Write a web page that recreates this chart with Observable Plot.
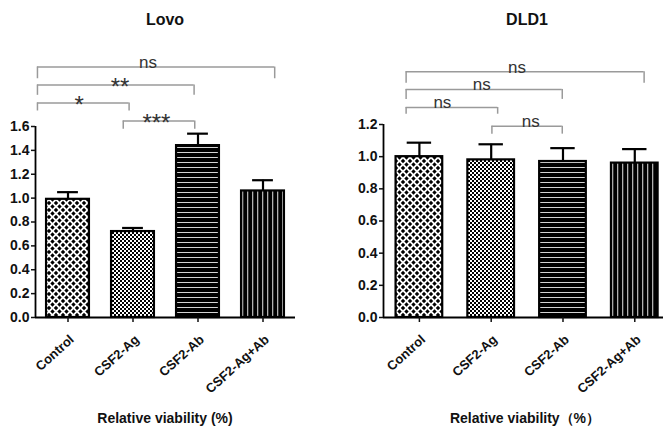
<!DOCTYPE html>
<html>
<head>
<meta charset="utf-8">
<script src="https://cdn.jsdelivr.net/npm/d3@7"></script>
<script src="https://cdn.jsdelivr.net/npm/@observablehq/plot@0.6"></script>
<style>
  body { margin: 0; background: white; font-family: "Liberation Sans", Arial, sans-serif; }
  #wrap { position: relative; width: 664px; height: 430px; overflow: hidden; }
  .panel { position: absolute; top: 0; }
  .lbl { position: absolute; text-align: center; font-weight: bold; color: #111; white-space: nowrap; z-index: 2; }
  .title { font-size: 16px; line-height: 16px; top: 12px; width: 330px; }
  .xlab { font-size: 14px; line-height: 14px; top: 411px; width: 330px; }
</style>
</head>
<body>
<svg width="0" height="0" style="position:absolute">
  <defs>
    <pattern id="pat0" width="7" height="7" patternUnits="userSpaceOnUse">
      <rect width="7" height="7" fill="white"/>
      <path d="M0,-2.2L2.2,0L0,2.2L-2.2,0Z M7,-2.2L9.2,0L7,2.2L4.8,0Z M0,4.8L2.2,7L0,9.2L-2.2,7Z M7,4.8L9.2,7L7,9.2L4.8,7Z M3.5,1.3L5.7,3.5L3.5,5.7L1.3,3.5Z" fill="black"/>
    </pattern>
    <pattern id="pat1" width="4" height="4" patternUnits="userSpaceOnUse">
      <rect width="4" height="4" fill="white"/>
      <rect x="0" y="0" width="2" height="2" fill="black"/>
      <rect x="2" y="2" width="2" height="2" fill="black"/>
    </pattern>
    <pattern id="pat2" width="6" height="5" patternUnits="userSpaceOnUse">
      <rect width="6" height="5" fill="black"/>
      <rect x="0" y="2" width="6" height="1" fill="#d4d4d4"/>
    </pattern>
    <pattern id="pat3" width="5" height="6" patternUnits="userSpaceOnUse">
      <rect width="5" height="6" fill="black"/>
      <rect x="2" y="0" width="1.3" height="6" fill="#b0b0b0"/>
    </pattern>
  </defs>
</svg>
<div id="wrap">
  <div class="lbl title" style="left:0px">Lovo</div>
  <div class="lbl title" style="left:362px">DLD1</div>
  <div class="lbl xlab" style="left:0px">Relative viability (%)</div>
  <div class="lbl xlab" style="left:360px">Relative viability（%）</div>
</div>
<script>
// ---- data ----
const categories = ["Control", "CSF2-Ag", "CSF2-Ab", "CSF2-Ag+Ab"];
const patterns = ["url(#pat0)", "url(#pat1)", "url(#pat2)", "url(#pat3)"];

const lovoMean = [0.99, 0.72, 1.44, 1.06];
const lovoSem  = [0.06, 0.03, 0.10, 0.09];
const lovoTicks = [0, 0.2, 0.4, 0.6, 0.8, 1.0, 1.2, 1.4, 1.6];

const dld1Mean = [1.00, 0.98, 0.97, 0.96];
const dld1Sem  = [0.087, 0.097, 0.083, 0.087];
const dld1Ticks = [0, 0.2, 0.4, 0.6, 0.8, 1.0, 1.2];

// significance brackets: left end, right end (x in category units), level, drop, label, label x
const lovoBrFrom  = [-0.47, -0.47, -0.47, 0.85];
const lovoBrTo    = [3.18, 1.94, 0.94, 1.95];
const lovoBrY     = [2.098, 1.947, 1.797, 1.647];
const lovoBrDrop  = [2.0, 1.861, 1.73, 1.577];
const lovoBrLabel = ["ns", "**", "*", "***"];
const lovoBrLabX  = [1.23, 0.8, 0.17, 1.36];

const dld1BrFrom  = [-0.185, -0.185, -0.185, 1.01];
const dld1BrTo    = [3.13, 1.99, 1.09, 1.99];
const dld1BrY     = [1.528, 1.418, 1.306, 1.189];
const dld1BrDrop  = [1.456, 1.356, 1.264, 1.14];
const dld1BrLabel = ["ns", "ns", "ns", "ns"];
const dld1BrLabX  = [1.36, 0.87, 0.32, 1.55];

function chart(cfg) {
  const rows = categories.map((c, i) => ({i, c, mean: cfg.mean[i], hi: cfg.mean[i] + cfg.sem[i], pat: patterns[i]}));
  const br = cfg.brFrom.map((f, k) => ({from: f, to: cfg.brTo[k], y: cfg.brY[k], drop: cfg.brDrop[k], label: cfg.brLabel[k], lx: cfg.brLabX[k]}));
  const ends = br.flatMap(b => [{x: b.from, y1: b.drop, y2: b.y}, {x: b.to, y1: b.drop, y2: b.y}]);
  const nsBr = br.filter(b => b.label === "ns");
  const starBr = br.filter(b => b.label !== "ns");
  const yMax = cfg.ticks[cfg.ticks.length - 1];
  return Plot.plot({
    width: cfg.width, height: 430,
    marginLeft: cfg.marginLeft, marginRight: cfg.marginRight,
    marginTop: cfg.marginTop, marginBottom: cfg.marginBottom,
    style: {fontFamily: "'Liberation Sans', Arial, sans-serif", fontWeight: "bold", fontSize: "14px", color: "#111", background: "transparent"},
    x: {domain: cfg.xDomain},
    y: {domain: [0, yMax]},
    color: {type: "identity"},
    marks: [
      // brackets
      Plot.ruleY(br, {x1: "from", x2: "to", y: "y", stroke: "#9a9a9a", strokeWidth: 1.5}),
      Plot.ruleX(ends, {x: "x", y1: "y1", y2: "y2", stroke: "#9a9a9a", strokeWidth: 1.5}),
      Plot.text(nsBr, {x: "lx", y: "y", text: "label", lineAnchor: "bottom", dy: 1,
        fontSize: 17, fontWeight: "normal", fill: "#333"}),
      Plot.text(starBr, {x: "lx", y: "y", text: "label", lineAnchor: "bottom", dy: 10,
        fontSize: 24, fontWeight: "normal", fill: "#333"}),
      // error bars
      Plot.ruleX(rows, {x: "i", y1: "mean", y2: "hi", stroke: "black", strokeWidth: 2.2}),
      Plot.ruleY(rows, {x1: d => d.i - cfg.cw, x2: d => d.i + cfg.cw, y: "hi", stroke: "black", strokeWidth: 2.2}),
      // bars
      Plot.rectY(rows, {x1: d => d.i - cfg.hw, x2: d => d.i + cfg.hw, y: "mean", fill: "pat", stroke: "black", strokeWidth: 2.2}),
      // axes
      Plot.ruleX([cfg.xDomain[0]], {stroke: "black", strokeWidth: 1.8}),
      Plot.ruleY([0], {stroke: "black", strokeWidth: 1.8}),
      Plot.axisY({ticks: cfg.ticks, tickFormat: d3.format(".1f"), tickSize: 4, tickPadding: 2, strokeWidth: 1.5, label: null}),
      Plot.axisX({ticks: [0, 1, 2, 3], tickFormat: () => "", tickSize: 5, strokeWidth: 1.5, label: null}),
      Plot.text(rows, {x: "i", y: 0, text: "c", rotate: -42, textAnchor: "end", lineAnchor: "middle",
        dx: 4, dy: 20, fontSize: 13, fontWeight: "bold", fill: "#111"})
    ]
  });
}

const left = chart({
  mean: lovoMean, sem: lovoSem, ticks: lovoTicks,
  brFrom: lovoBrFrom, brTo: lovoBrTo, brY: lovoBrY, brDrop: lovoBrDrop, brLabel: lovoBrLabel, brLabX: lovoBrLabX,
  width: 332, marginLeft: 35, marginRight: 37, marginTop: 126, marginBottom: 113,
  xDomain: [-0.5, 3.5], hw: 0.33, cw: 0.16
});
left.classList.add("panel");
left.style.left = "0px";

const right = chart({
  mean: dld1Mean, sem: dld1Sem, ticks: dld1Ticks,
  brFrom: dld1BrFrom, brTo: dld1BrTo, brY: dld1BrY, brDrop: dld1BrDrop, brLabel: dld1BrLabel, brLabX: dld1BrLabX,
  width: 324, marginLeft: 43, marginRight: 1, marginTop: 124, marginBottom: 113,
  xDomain: [-0.5, 3.4], hw: 0.325, cw: 0.17
});
right.classList.add("panel");
right.style.left = "340px";

const wrap = document.getElementById("wrap");
wrap.insertBefore(right, wrap.firstChild);
wrap.insertBefore(left, wrap.firstChild);
</script>
</body>
</html>
